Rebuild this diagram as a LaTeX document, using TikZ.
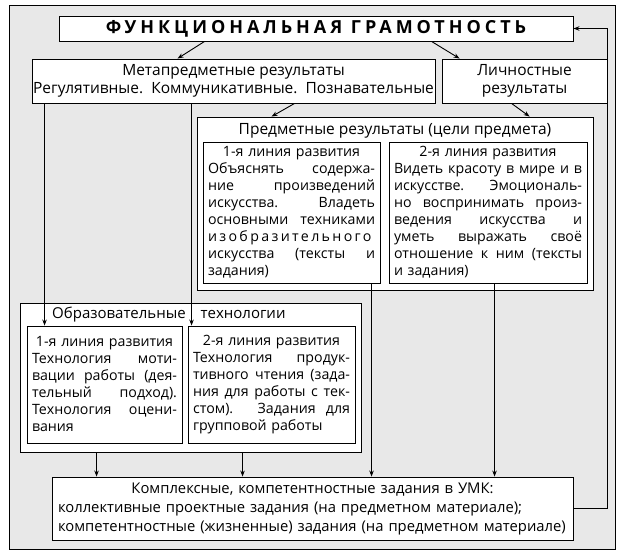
\documentclass[tikz,border=0pt]{standalone}
\usepackage{fontspec}
\setmainfont{Open Sans}
\usetikzlibrary{arrows.meta}

\tikzstyle{marco}= [rectangle,draw,black,fill=black!9,line width=0.9pt]
\tikzstyle{caja}= [rectangle,draw,black,fill=white,line width=0.9pt,inner sep=0pt]
\tikzstyle{grande}= [font=\fontsize{15.5}{18}\selectfont]
\tikzstyle{texto}= [caja,align=left,inner xsep=5pt,inner ysep=0pt]
\tikzstyle{flecha}= [black,line width=0.9pt,-{Stealth[length=6pt,width=4.5pt]}]

\newcommand{\jl}[1]{{\spaceskip=0pt\xspaceskip=0pt\makebox[\hsize][s]{#1}}}
\newcommand{\cl}[1]{\makebox[\hsize]{#1}}

\begin{document}
\begin{tikzpicture}[x=1pt,y=-1pt,font=\fontsize{14.2}{17}\selectfont]
		\useasboundingbox (0,0) rectangle (624,556);
		\path[marco] (9,5) rectangle (615,549);

		% niveles superiores
		\node (fg) at (316,28.5) [caja,minimum width=514pt,minimum height=25pt]
			{\fontsize{18}{18}\selectfont\bfseries\addfontfeature{LetterSpace=22}ФУНКЦИОНАЛЬНАЯ ГРАМОТНОСТЬ};
		\node (meta) at (233.5,81) [caja,grande,align=center,minimum width=403pt,minimum height=44pt]
			{Метапредметные результаты\\Регулятивные.\ \ Коммуникативные.\ \ Познавательные};
		\node (lich) at (524.5,81) [caja,grande,align=center,minimum width=165pt,minimum height=44pt]
			{Личностные\\результаты};

		% предметные
		\node (pred) at (395,203.5) [caja,minimum width=396pt,minimum height=173pt] {};
		\node (predtit) at (395,131) [grande] {Предметные результаты (цели предмета)};
		\node (pred1) at (291.5,212.5) [texto,text width=167pt,minimum height=141pt]
			{\cl{1-я линия развития}\\
			\jl{Объяснять содержа-}\\
			\jl{ние произведений}\\
			\jl{искусства. Владеть}\\
			\jl{основными техниками}\\
			{\addfontfeature{LetterSpace=16.5}изобразительного}\\
			\jl{искусства (тексты и}\\
			задания)};
		\node (pred2) at (488,212.5) [texto,text width=188pt,minimum height=141pt]
			{\cl{2-я линия развития}\\
			\jl{Видеть красоту в мире и в}\\
			\jl{искусстве. Эмоциональ-}\\
			\jl{но воспринимать произ-}\\
			\jl{ведения искусства и}\\
			\jl{уметь выражать своё}\\
			\jl{отношение к ним (тексты}\\
			и задания)};

		% образовательные технологии
		\node (obr) at (190.5,377.5) [caja,minimum width=341pt,minimum height=149pt] {};
		\node (obrtit) at (52,315) [anchor=west,inner sep=0pt,font=\fontsize{15}{18}\selectfont]
			{Образовательные\hspace{15pt}технологии};
		\node (obr1) at (104.5,384.5) [texto,text width=145pt,minimum height=117pt]
			{\cl{1-я линия развития}\\
			\jl{Технология моти-}\\
			\jl{вации работы (дея-}\\
			\jl{тельный подход).}\\
			\jl{Технология оцени-}\\
			вания};
		\node (obr2) at (271.5,384.5) [texto,text width=157pt,minimum height=117pt]
			{\cl{2-я линия развития}\\
			\jl{Технология продук-}\\
			\jl{тивного чтения (зада-}\\
			\jl{ния для работы с тек-}\\
			\jl{стом). Задания для}\\
			групповой работы};

		% УМК
		\node (umk) at (312.5,508.5) [texto,inner xsep=6pt,text width=509pt,minimum height=63pt,
			font=\fontsize{14.8}{19}\selectfont]
			{\cl{Комплексные, компетентностные задания в УМК:}\\
			коллективные проектные задания (на предметном материале);\\
			компетентностные (жизненные) задания (на предметном материале)};

		\path[flecha] ([xshift=146pt]fg.south west) edge[] ([xshift=146pt]meta.north west);
		\path[flecha] ([xshift=373pt]fg.south west) edge[] ([xshift=18pt]lich.north west);
		\path[flecha] ([xshift=263pt]meta.south west) edge[] ([xshift=75pt]pred.north west);
		\path[flecha] ([xshift=70pt]lich.south west) edge[] ([xshift=333pt]pred.north west);

		\path[flecha] ([xshift=13pt]meta.south west) edge[] ([xshift=13pt]meta.south west |- obr1.north);
		\path[flecha] ([xshift=160pt]meta.south west) edge[] ([xshift=160pt]meta.south west |- obr2.north);

		\path[flecha] ([xshift=77pt]obr.south west) edge[] ([xshift=77pt]obr.south west |- umk.north);
		\path[flecha] ([xshift=223pt]obr.south west) edge[] ([xshift=223pt]obr.south west |- umk.north);
		\path[flecha] ([xshift=169pt]pred1.south west) edge[] ([xshift=169pt]pred1.south west |- umk.north);
		\path[flecha] ([xshift=106pt]pred2.south west) edge[] ([xshift=106pt]pred2.south west |- umk.north);

		\draw[flecha] (umk.east) -- (umk.east -| lich.east) -- (fg.east -| lich.east) -- (fg.east);

	\end{tikzpicture}
\end{document}
